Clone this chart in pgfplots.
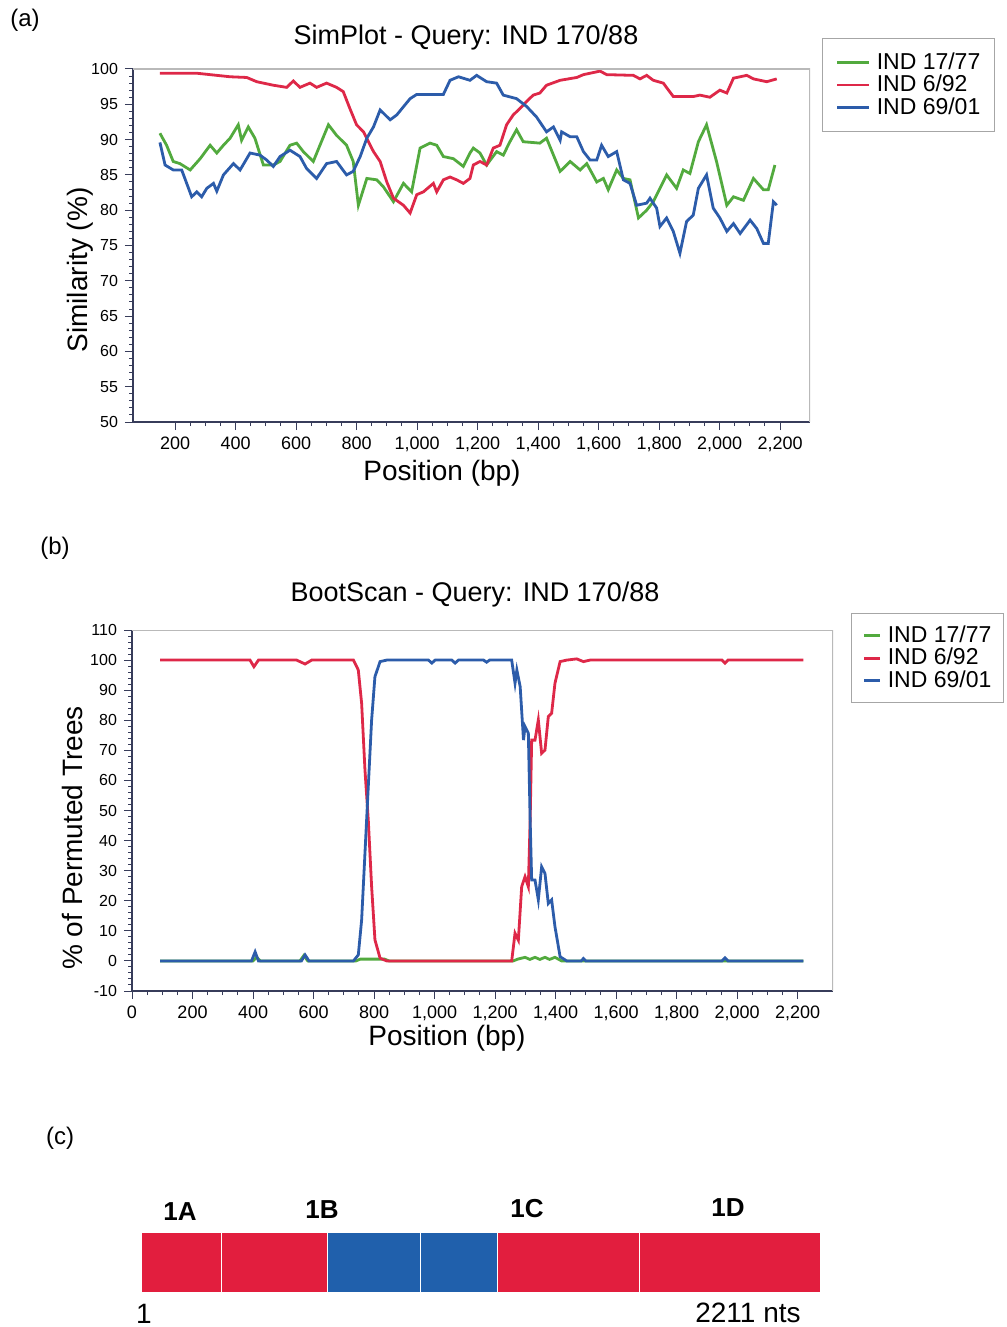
\documentclass[border=0pt]{standalone}
\usepackage{pgfplots}
\pgfplotsset{compat=1.18}
\usepackage{fontspec}
\setmainfont{Liberation Sans}

\definecolor{cgreen}{RGB}{82,170,62}
\definecolor{cred}{RGB}{222,40,72}
\definecolor{cblue}{RGB}{44,92,170}
\definecolor{barred}{RGB}{226,30,62}
\definecolor{barblue}{RGB}{32,96,172}
\definecolor{axcol}{RGB}{55,60,90}

\pgfplotsset{
  simstyle/.style={
    scale only axis,
    axis x line*=bottom, axis y line*=left,
    axis line style={axcol, line width=0.8pt},
    tick style={axcol, line width=0.5pt},
    tick align=outside,
    major tick length=4pt, minor tick length=2pt,
    /pgf/number format/assume math mode=true,
    /pgf/number format/1000 sep={,},
    x tick label style={font=\fontsize{9}{10}\selectfont},
    y tick label style={font=\fontsize{8}{9}\selectfont},
    legend cell align=left,
    legend style={draw=gray!70, font=\fontsize{11.5}{12}\selectfont, anchor=north west,
      column sep=2.5pt, nodes={inner sep=0.7pt}},
  }
}

% SimPlot similarity
\pgfplotstableread{
x y
150 90.9
172 89.2
194 86.9
216 86.6
250 85.7
283 87.3
316 89.2
338 88.1
360 89.2
382 90.2
409 92.1
420 89.9
442 91.8
464 90.2
492 86.4
525 86.4
547 86.9
580 89.2
602 89.5
624 88.3
657 86.9
679 89.2
707 92.1
734 90.6
767 89.2
789 86.9
806 80.7
834 84.5
867 84.3
889 83.3
922 81.2
955 83.8
982 82.6
1010 88.8
1043 89.5
1065 89.2
1087 87.6
1120 87.3
1153 86.2
1175 88.1
1186 88.8
1208 88.1
1230 86.4
1263 88.3
1285 87.8
1307 89.7
1329 91.4
1351 89.7
1406 89.5
1428 90.2
1473 85.5
1506 86.9
1539 85.7
1561 86.6
1594 84.0
1616 84.5
1632 82.9
1660 85.7
1682 84.5
1704 84.3
1732 78.9
1759 80.0
1781 81.2
1825 85.0
1858 83.1
1880 85.7
1902 85.2
1930 89.7
1957 92.1
1990 86.9
2024 80.7
2046 81.9
2079 81.4
2112 84.5
2145 82.9
2161 82.9
2183 86.4
}\simgreen

\pgfplotstableread{
x y
150 99.4
272 99.4
382 98.9
437 98.8
470 98.2
525 97.7
569 97.4
591 98.3
613 97.4
646 98.0
668 97.4
701 98.0
734 97.4
756 96.8
778 94.4
800 92.1
823 91.1
856 88.3
878 86.9
900 84.0
922 81.7
955 80.7
977 79.6
999 82.2
1021 82.6
1054 83.8
1065 82.6
1087 84.3
1109 84.7
1131 84.3
1153 83.8
1175 84.5
1186 86.4
1208 86.9
1230 86.4
1252 88.8
1274 89.2
1296 92.1
1318 93.5
1340 94.4
1362 95.4
1384 96.3
1406 96.6
1428 97.7
1473 98.4
1528 98.8
1550 99.2
1605 99.7
1627 99.2
1715 99.1
1737 98.6
1759 99.1
1781 98.4
1814 98.0
1847 96.1
1913 96.1
1935 96.3
1968 96.0
2001 97.0
2024 96.6
2046 98.7
2090 99.1
2112 98.6
2156 98.2
2189 98.6
}\simred

\pgfplotstableread{
x y
150 89.6
167 86.4
194 85.7
222 85.7
255 81.9
272 82.6
288 81.9
305 83.1
327 83.8
338 82.7
360 85.0
393 86.6
415 85.7
448 88.1
481 87.8
503 87.1
525 86.2
547 87.6
580 88.5
613 87.6
635 85.9
668 84.5
701 86.6
734 86.9
767 85.0
789 85.5
812 87.6
834 90.2
856 91.8
878 94.2
911 92.8
933 93.5
977 95.8
999 96.4
1087 96.4
1109 98.4
1137 98.9
1175 98.4
1197 99.1
1230 98.2
1263 98.0
1285 96.3
1329 95.8
1362 94.7
1395 93.2
1428 91.1
1451 91.8
1473 89.9
1478 91.1
1506 90.4
1528 90.4
1550 88.3
1572 87.1
1594 87.1
1610 89.2
1632 87.6
1660 88.3
1682 84.3
1704 83.8
1726 80.7
1759 81.0
1770 81.7
1792 80.3
1803 77.7
1825 78.9
1847 77.0
1869 73.9
1891 78.4
1913 79.3
1930 83.1
1957 85.0
1979 80.3
2001 78.9
2024 77.0
2046 78.1
2068 76.7
2101 78.6
2123 77.4
2145 75.3
2161 75.3
2178 81.2
2189 80.7
}\simblue

% BootScan
\pgfplotstableread{
x y
93 0
400 0
412 1.2
424 0
555 0
568 1.8
581 0
740 0
755 0.6
835 0.6
850 0
1260 0
1275 0.6
1299 1.2
1315 0.5
1332 1.2
1348 0.5
1365 1.2
1380 0.5
1398 1.2
1420 0
2219 0
}\bootgreen

\pgfplotstableread{
x y
93 100
390 100
403 97.8
418 100
544 100
572 98.7
594 100
732 100
748 96.7
759 85.6
770 63.5
781 46.8
792 24.7
803 7.0
820 0.9
842 0
1255 0
1266 9.2
1277 6.9
1288 24.7
1299 28
1310 24.7
1316 46.8
1321 73.4
1332 73.4
1343 80.1
1354 69
1365 70.1
1376 81.2
1387 82.3
1398 92.3
1415 99.5
1437 100
1470 100.4
1492 99.5
1514 100
1950 100
1960 99
1970 100
2219 100
}\bootred

\pgfplotstableread{
x y
93 0
395 0
407 3
418 0
560 0
572 2
585 0
732 0
748 2
759 13.6
770 35.8
781 58
792 80.1
803 94.5
820 99.5
842 100
980 100
991 99
1002 100
1057 100
1068 99
1079 100
1162 100
1172 99.3
1182 100
1255 100
1266 92.3
1272 96.7
1283 91.2
1294 73.4
1299 77.9
1310 75.7
1316 46.8
1321 26.9
1332 26.9
1343 20.3
1354 31.3
1365 29.1
1376 19.1
1387 20.3
1398 11.4
1415 1.4
1437 0
1485 0
1492 0.8
1500 0
1950 0
1960 1
1970 0
2219 0
}\bootblue

\begin{document}
\begin{tikzpicture}
\useasboundingbox (0pt,0pt) rectangle (503pt,-663.5pt);
\fill[white] (0pt,0pt) rectangle (503pt,-663.5pt);

% (a) SimPlot
\begin{axis}[simstyle,
  at={(66.5pt,-34.5pt)}, anchor=north west,
  width=338.5pt, height=176.5pt,
  xmin=61, xmax=2299, ymin=50, ymax=100,
  xtick={200,400,...,2200}, minor x tick num=3,
  ytick={50,55,...,100}, minor y tick num=4,
  legend style={at={(1.018,1.088)}, inner sep=6.5pt},
  legend image code/.code={\draw[#1, line width=1.4pt] (0pt,0pt) -- (16pt,0pt);},
]
\addplot[cgreen, line width=1.4pt] table[x=x,y=y] {\simgreen};
\addlegendentry{IND 17/77}
\addplot[cred, line width=1.4pt] table[x=x,y=y] {\simred};
\addlegendentry{IND 6/92}
\addplot[cblue, line width=1.4pt] table[x=x,y=y] {\simblue};
\addlegendentry{IND 69/01}
\draw[gray!55, line width=0.6pt] (rel axis cs:0,1) -- (rel axis cs:1,1) -- (rel axis cs:1,0);
\end{axis}

% (b) BootScan
\begin{axis}[simstyle,
  at={(66pt,-315pt)}, anchor=north west,
  width=350.5pt, height=180.5pt,
  xmin=0, xmax=2317, ymin=-10, ymax=110,
  xtick={0,200,...,2200}, minor x tick num=3,
  ytick={-10,0,...,110}, minor y tick num=4,
  legend style={at={(1.026,1.047)}, inner sep=5.5pt},
  legend image code/.code={\draw[#1, line width=1.4pt] (0pt,0pt) -- (8pt,0pt);},
]
\addplot[cgreen, line width=1.4pt] table[x=x,y=y] {\bootgreen};
\addlegendentry{IND 17/77}
\addplot[cred, line width=1.4pt] table[x=x,y=y] {\bootred};
\addlegendentry{IND 6/92}
\addplot[cblue, line width=1.4pt] table[x=x,y=y] {\bootblue};
\addlegendentry{IND 69/01}
\draw[gray!55, line width=0.6pt] (rel axis cs:0,1) -- (rel axis cs:1,1) -- (rel axis cs:1,0);
\end{axis}

% (c) genome map
\begin{axis}[
  at={(70.5pt,-616pt)}, anchor=north west,
  scale only axis, width=340pt, height=30.5pt,
  xmin=0, xmax=2211, ymin=-0.5, ymax=0.5,
  xbar stacked, bar width=30.5pt, hide axis, clip=false,
]
\addplot[fill=barred, draw=white, line width=0.6pt] coordinates {(263,0)};
\addplot[fill=barred, draw=white, line width=0.6pt] coordinates {(343,0)};
\addplot[fill=barblue, draw=white, line width=0.6pt] coordinates {(303,0)};
\addplot[fill=barblue, draw=white, line width=0.6pt] coordinates {(250,0)};
\addplot[fill=barred, draw=white, line width=0.6pt] coordinates {(463,0)};
\addplot[fill=barred, draw=white, line width=0.6pt] coordinates {(589,0)};
\end{axis}

% texts
\node[font=\fontsize{12}{14}\selectfont] at (12.5pt,-10pt) {(a)};
\node[font=\fontsize{12}{14}\selectfont] at (27.5pt,-274pt) {(b)};
\node[font=\fontsize{12}{14}\selectfont] at (30pt,-569pt) {(c)};
\node[font=\fontsize{13.5}{15}\selectfont] at (233pt,-19pt) {SimPlot - Query: IND 170/88};
\node[font=\fontsize{13.5}{15}\selectfont] at (237.5pt,-297.5pt) {BootScan - Query: IND 170/88};
\node[font=\fontsize{14}{16}\selectfont] at (221pt,-236.5pt) {Position (bp)};
\node[font=\fontsize{14}{16}\selectfont] at (223.5pt,-519pt) {Position (bp)};
\node[font=\fontsize{14}{16}\selectfont, rotate=90] at (40pt,-135pt) {Similarity (\%)};
\node[font=\fontsize{14}{16}\selectfont, rotate=90] at (36pt,-419pt) {\% of Permuted Trees};
\node[font=\bfseries\fontsize{13}{15}\selectfont] at (90pt,-606pt) {1A};
\node[font=\bfseries\fontsize{13}{15}\selectfont] at (161pt,-605pt) {1B};
\node[font=\bfseries\fontsize{13}{15}\selectfont] at (263.5pt,-604.5pt) {1C};
\node[font=\bfseries\fontsize{13}{15}\selectfont] at (364pt,-604pt) {1D};
\node[font=\fontsize{14}{16}\selectfont] at (72pt,-657pt) {1};
\node[font=\fontsize{14}{16}\selectfont] at (374pt,-656.5pt) {2211 nts};
\end{tikzpicture}
\end{document}
